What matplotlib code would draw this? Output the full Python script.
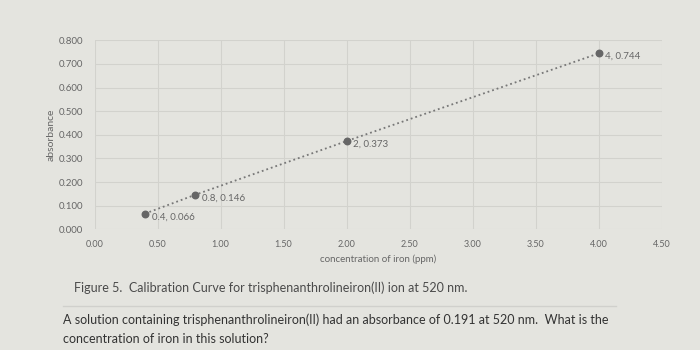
import matplotlib
matplotlib.use('Agg')
import matplotlib.pyplot as plt

plt.rcParams['font.family'] = ['Lato', 'DejaVu Sans']

# datos de calibracion
concentracion = [0.4, 0.8, 2.0, 4.0]
absorbancia = [0.066, 0.146, 0.373, 0.744]
etiquetas = ['0.4, 0.066', '0.8, 0.146', '2, 0.373', '4, 0.744']
x_ticks = [0.0, 0.5, 1.0, 1.5, 2.0, 2.5, 3.0, 3.5, 4.0, 4.5]
y_ticks = [0.0, 0.1, 0.2, 0.3, 0.4, 0.5, 0.6, 0.7, 0.8]

fondo = '#e4e4df'
fig = plt.figure(figsize=(7, 3.5), dpi=100, facecolor=fondo)
ax = fig.add_axes([0.135, 0.345, 0.81, 0.54])
ax.set_facecolor(fondo)

ax.plot(concentracion, absorbancia, linestyle=':', color='#777777', linewidth=1.3, zorder=2)
ax.scatter(concentracion, absorbancia, s=22, color='#666666', zorder=3)
for x, y, t in zip(concentracion, absorbancia, etiquetas):
    ax.annotate(t, (x, y), xytext=(5, -4), textcoords='offset points',
                fontsize=7, color='#666666')

ax.set_xlim(0, 4.5)
ax.set_ylim(0, 0.8)
ax.set_xticks(x_ticks)
ax.set_yticks(y_ticks)
ax.set_xticklabels(['%.2f' % v for v in x_ticks], fontsize=6.5, color='#666666')
ax.set_yticklabels(['%.3f' % v for v in y_ticks], fontsize=7, color='#666666')
ax.tick_params(length=0, pad=8)
ax.grid(True, color='#d2d2cd', linewidth=0.8)
for s in ax.spines.values():
    s.set_visible(False)
ax.set_xlabel('concentration of iron (ppm)', fontsize=7, color='#666666', labelpad=4)
ax.set_ylabel('absorbance', fontsize=7.5, color='#666666', labelpad=2)

fig.text(0.105, 0.165, 'Figure 5.  Calibration Curve for trisphenanthrolineiron(II) ion at 520 nm.',
         fontsize=9, color='#4a4a4a')
fig.add_artist(plt.Line2D([0.09, 0.88], [0.125, 0.125], color='#d0d0cc', linewidth=1))
fig.text(0.09, 0.075, 'A solution containing trisphenanthrolineiron(II) had an absorbance of 0.191 at 520 nm.  What is the',
         fontsize=9, color='#333333')
fig.text(0.09, 0.02, 'concentration of iron in this solution?', fontsize=9, color='#333333')

fig.savefig('out.png', dpi=100, facecolor=fondo)
